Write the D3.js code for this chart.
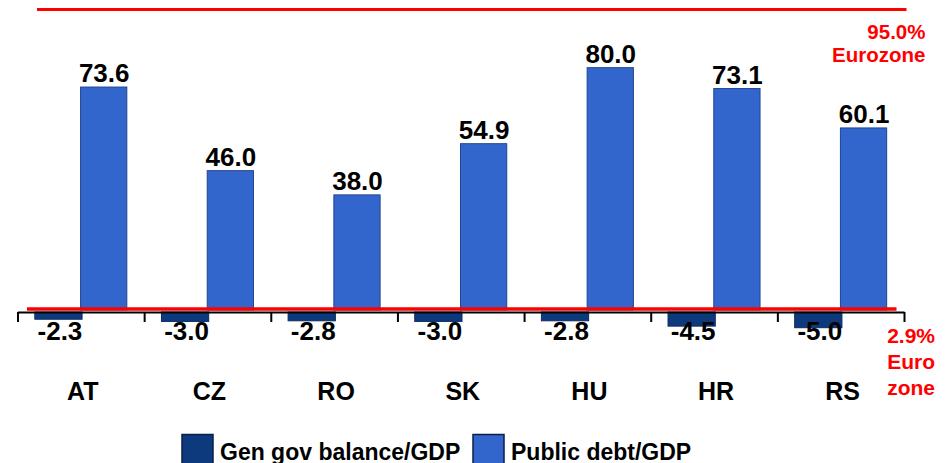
<!DOCTYPE html>
<html>
<head>
<meta charset="utf-8">
<script src="https://cdn.jsdelivr.net/npm/d3@7"></script>
<style>
  html, body { margin: 0; padding: 0; background: #fff; }
  svg { display: block; font-family: "Liberation Sans", Arial, sans-serif; }
</style>
</head>
<body>
<svg id="chart" width="947" height="463"></svg>
<script>
const categories = ["AT", "CZ", "RO", "SK", "HU", "HR", "RS"];
const balance = [-2.3, -3.0, -2.8, -3.0, -2.8, -4.5, -5.0];
const debt = [73.6, 46.0, 38.0, 54.9, 80.0, 73.1, 60.1];
const seriesNames = ["Gen gov balance/GDP", "Public debt/GDP"];
const eurozoneDebtLabel = ["95.0%", "Eurozone"];
const eurozoneDeficitLabel = ["2.9%", "Euro", "zone"];

const colors = { bal: "#0d3a7d", debt: "#3366cc" };
const strokes = { bal: "#0a2c63", debt: "#1f4590" };

const svg = d3.select("#chart");

const x = d3.scaleBand().domain(categories).range([17.5, 904]).padding(0);
const xInner = d3.scaleBand().domain(["bal", "debt"]).range([-46, 46.5]).padding(0);
const yDebt = d3.scaleLinear().domain([0, 99.2]).range([310, 9.5]);
const yBal = d3.scaleLinear().domain([-5, 0]).range([327.7, 312]);

const rows = categories.map((c, i) => ({ cat: c, bal: balance[i], debt: debt[i] }));

// debt bars
svg.append("g").selectAll("rect").data(rows).join("rect")
  .attr("x", d => x(d.cat) + x.bandwidth() / 2 + xInner("debt") - 0.5)
  .attr("y", d => yDebt(d.debt))
  .attr("width", xInner.bandwidth())
  .attr("height", d => yDebt(0) - yDebt(d.debt))
  .attr("fill", colors.debt)
  .attr("stroke", strokes.debt)
  .attr("stroke-width", 1);

// balance bars
svg.append("g").selectAll("rect").data(rows).join("rect")
  .attr("x", d => x(d.cat) + x.bandwidth() / 2 + xInner("bal"))
  .attr("y", yBal(0))
  .attr("width", xInner.bandwidth() + 1)
  .attr("height", d => yBal(d.bal) - yBal(0))
  .attr("fill", colors.bal)
  .attr("stroke", strokes.bal)
  .attr("stroke-width", 1);

// axis with ticks at category boundaries
const xEdges = d3.scaleLinear().domain([0, categories.length]).range(x.range());
const axis = svg.append("g")
  .attr("transform", `translate(0,${yBal(0)})`)
  .call(d3.axisBottom(xEdges).ticks(categories.length).tickFormat("").tickSize(10).tickSizeOuter(0));
axis.selectAll("path,line").attr("stroke", "#000").attr("stroke-width", 2);

// red eurozone lines
svg.append("line")
  .attr("x1", 27).attr("x2", 896.5)
  .attr("y1", yDebt(0) - 1).attr("y2", yDebt(0) - 1)
  .attr("stroke", "#ff0000").attr("stroke-width", 3.5);
svg.append("line")
  .attr("x1", 37).attr("x2", 906.5)
  .attr("y1", yDebt.range()[1]).attr("y2", yDebt.range()[1])
  .attr("stroke", "#ff0000").attr("stroke-width", 3);

// value labels
svg.append("g").selectAll("text").data(rows).join("text")
  .attr("x", d => x(d.cat) + x.bandwidth() / 2 + xInner("debt") + xInner.bandwidth() / 2)
  .attr("y", d => yDebt(d.debt) - 5)
  .attr("text-anchor", "middle")
  .attr("font-size", 26).attr("font-weight", "bold").attr("fill", "#000")
  .text(d => d.debt.toFixed(1));

svg.append("g").selectAll("text").data(rows).join("text")
  .attr("x", d => x(d.cat) + x.bandwidth() / 2 + xInner("bal") + xInner.bandwidth() / 2 + 2)
  .attr("y", 339.5)
  .attr("text-anchor", "middle")
  .attr("font-size", 26).attr("font-weight", "bold").attr("fill", "#000")
  .text(d => d.bal.toFixed(1));

// category labels
svg.append("g").selectAll("text").data(categories).join("text")
  .attr("x", d => x(d) + x.bandwidth() / 2 + 2)
  .attr("y", 400)
  .attr("text-anchor", "middle")
  .attr("font-size", 25).attr("font-weight", "bold").attr("fill", "#000")
  .text(d => d);

// red annotations
svg.append("g").selectAll("text").data(eurozoneDebtLabel).join("text")
  .attr("x", 925.5)
  .attr("y", (d, i) => 39 + i * 23)
  .attr("text-anchor", "end")
  .attr("font-size", 20.5).attr("font-weight", "bold").attr("fill", "#ff0000")
  .text(d => d);

svg.append("g").selectAll("text").data(eurozoneDeficitLabel).join("text")
  .attr("x", 935)
  .attr("y", (d, i) => 343 + i * 26)
  .attr("text-anchor", "end")
  .attr("font-size", 21).attr("font-weight", "bold").attr("fill", "#ff0000")
  .text(d => d);

// legend
const legendX = [182, 473];
const lg = svg.append("g");
seriesNames.forEach((name, i) => {
  const key = i === 0 ? "bal" : "debt";
  lg.append("rect")
    .attr("x", legendX[i]).attr("y", 434.5)
    .attr("width", 31).attr("height", 40)
    .attr("fill", colors[key]).attr("stroke", "#0a1f45").attr("stroke-width", 1.5);
  lg.append("text")
    .attr("x", legendX[i] + 38).attr("y", 460)
    .attr("font-size", 23).attr("font-weight", "bold").attr("fill", "#000")
    .text(name);
});
</script>
</body>
</html>
